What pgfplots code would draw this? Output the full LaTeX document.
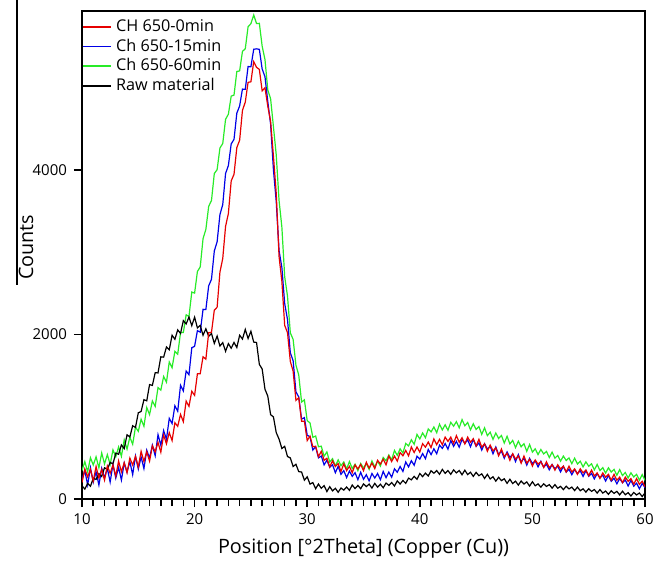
\documentclass[border=0pt]{standalone}
\usepackage{pgfplots}
\pgfplotsset{compat=1.18}
\usepackage{pgfplotstable}
\usepackage{fontspec}
\setmainfont{Open Sans}

\definecolor{cred}{RGB}{230,0,0}
\definecolor{cblue}{RGB}{0,0,230}
\definecolor{cgreen}{RGB}{40,235,40}

% x, raw material, CH 650-0min, Ch 650-15min, Ch 650-60min
\pgfplotstableread{
x raw c0 c15 c60
10.00 160 200 237 346
10.25 121 364 347 455
10.50 190 268 171 330
10.75 155 360 380 502
11.00 252 219 204 413
11.25 238 395 330 513
11.50 308 256 170 379
11.75 274 360 373 560
12.00 380 230 257 426
12.25 358 402 374 540
12.50 445 313 206 420
12.75 427 413 422 597
13.00 558 279 254 513
13.25 544 462 385 633
13.50 657 331 230 519
13.75 613 442 438 720
14.00 780 320 327 606
14.25 754 497 454 752
14.50 890 413 296 665
14.75 870 518 522 874
15.00 1048 389 364 823
15.25 1064 580 510 970
15.50 1207 456 370 884
15.75 1193 575 593 1112
16.00 1390 460 497 1026
16.25 1381 647 654 1192
16.50 1535 573 526 1125
16.75 1532 688 782 1354
17.00 1728 569 654 1323
17.25 1724 777 832 1488
17.50 1847 671 725 1419
17.75 1813 807 980 1665
18.00 1990 710 917 1596
18.25 1941 927 1134 1795
18.50 2055 883 1066 1760
18.75 2012 1028 1382 2022
19.00 2168 939 1314 2023
19.25 2127 1190 1555 2238
19.50 2212 1126 1510 2219
19.75 2106 1310 1838 2515
20.00 2210 1260 1856 2502
20.25 2079 1522 2046 2765
20.50 2110 1523 2028 2820
20.75 1990 1728 2305 3164
21.00 2068 1699 2302 3276
21.25 1977 2020 2590 3556
21.50 2012 2026 2670 3628
21.75 1891 2295 3014 3955
22.00 1980 2330 3126 4002
22.25 1859 2757 3456 4265
22.50 1900 2923 3578 4320
22.75 1795 3313 3955 4614
23.00 1888 3469 4052 4676
23.25 1832 3865 4315 4896
23.50 1902 3946 4370 4908
23.75 1841 4270 4689 5195
24.00 1990 4360 4776 5202
24.25 1944 4722 4981 5440
24.50 2060 4823 4978 5470
24.75 1950 5063 5255 5739
25.00 2038 5069 5252 5776
25.25 1907 5315 5465 5881
25.50 1902 5246 5470 5778
25.75 1636 5220 5464 5780
26.00 1580 4960 5226 5502
26.25 1334 4997 5131 5340
26.50 1250 4773 4828 4970
26.75 1025 4588 4555 4864
27.00 998 4169 4002 4526
27.25 807 3715 3615 4181
27.50 728 2946 3020 3628
27.75 614 2645 2814 3305
28.00 640 2110 2376 2702
28.25 516 2022 2181 2465
28.50 500 1673 1778 2020
28.75 395 1553 1680 1939
29.00 422 1199 1302 1626
29.25 333 1230 1240 1506
29.50 328 946 970 1178
29.75 229 945 989 1205
30.00 270 710 776 952
30.25 181 765 755 925
30.50 200 635 595 750
30.75 125 640 635 765
31.00 182 515 500 635
31.25 130 580 522 642
31.50 163 470 415 520
31.75 91 495 472 572
32.00 150 390 385 450
32.25 99 465 417 490
32.50 130 395 320 400
32.75 82 430 397 475
33.00 134 335 300 405
33.25 108 427 345 450
33.50 146 345 260 365
33.75 105 397 340 455
34.00 170 320 275 370
34.25 127 415 320 422
34.50 165 365 235 345
34.75 125 420 325 432
35.00 184 345 240 375
35.25 151 447 295 432
35.50 181 375 220 360
35.75 133 437 310 462
36.00 190 370 255 390
36.25 144 470 310 460
36.50 180 425 235 400
36.75 137 485 335 505
37.00 194 415 260 465
37.25 166 522 327 535
37.50 201 455 265 475
37.75 158 522 367 590
38.00 220 460 325 530
38.25 182 565 395 610
38.50 225 525 335 560
38.75 190 590 450 675
39.00 254 525 390 645
39.25 233 632 465 720
39.50 276 565 410 665
39.75 240 632 520 785
40.00 310 570 485 730
40.25 272 672 552 802
40.50 315 630 490 745
40.75 280 692 602 852
41.00 344 625 540 815
41.25 313 730 610 875
41.50 346 660 550 805
41.75 300 725 655 910
42.00 360 660 615 840
42.25 312 752 675 902
42.50 345 700 605 835
42.75 300 752 710 932
43.00 354 675 640 885
43.25 318 770 700 940
43.50 346 690 630 865
43.75 295 745 725 965
44.00 350 670 675 890
44.25 297 752 720 930
44.50 325 690 635 840
44.75 275 732 725 915
45.00 324 645 640 845
45.25 283 725 682 880
45.50 306 630 595 785
45.75 250 670 672 865
46.00 300 580 605 770
46.25 244 655 642 812
46.50 270 585 550 725
46.75 217 620 632 802
47.00 264 525 540 735
47.25 223 607 582 772
47.50 246 515 495 680
47.75 190 557 572 762
48.00 240 470 505 670
48.25 188 550 545 712
48.50 217 485 455 625
48.75 169 525 540 702
49.00 219 435 450 635
49.25 182 522 496 672
49.50 208 435 412 580
49.75 157 482 494 662
50.00 210 400 430 570
50.25 161 474 464 610
50.50 184 423 391 540
50.75 144 455 459 602
51.00 185 384 386 548
51.25 153 452 422 578
51.50 175 381 355 504
51.75 132 417 419 570
52.00 175 350 368 496
52.25 131 416 400 530
52.50 154 365 329 460
52.75 114 399 397 522
53.00 155 329 326 468
53.25 123 399 362 500
53.50 145 328 295 429
53.75 102 366 359 497
54.00 145 300 308 426
54.25 101 367 343 460
54.50 124 318 274 390
54.75 84 353 345 452
55.00 125 284 276 398
55.25 93 352 312 428
55.50 115 281 245 354
55.75 72 317 309 420
56.00 115 250 258 346
56.25 72 316 290 382
56.50 97 265 219 315
56.75 57 299 287 379
57.00 100 229 216 328
57.25 69 299 252 360
57.50 93 228 185 289
57.75 50 266 249 357
58.00 95 200 198 286
58.25 52 266 230 322
58.50 77 215 159 255
58.75 37 249 227 319
59.00 80 179 156 268
59.25 49 249 192 300
59.50 73 178 125 229
59.75 30 216 189 297
60.00 75 150 138 226
}\xrd

\begin{document}
\begin{tikzpicture}
\begin{axis}[name=ax, scale only axis, width=281.5pt, height=244pt,
  xmin=10, xmax=60, ymin=0, ymax=5930,
  xtick={10,20,30,40,50,60}, minor x tick num=9,
  ytick={0,2000,4000},
  tick align=outside, xtick pos=bottom, ytick pos=left,
  major tick length=4pt, minor tick length=3.5pt,
  axis line style={line width=1pt},
  every tick/.style={draw=black, line width=0.8pt},
  every minor tick/.style={draw=black, line width=0.8pt},
  /pgf/number format/1000 sep={}, /pgf/number format/assume math mode=true,
  tick label style={font=\fontsize{7.5}{9}\selectfont},
  xlabel={Position [°2Theta] (Copper (Cu))}, ylabel={Counts},
  label style={font=\fontsize{9.9}{12}\selectfont},
  xlabel style={at={(axis description cs:0.5,0)}, anchor=center, yshift=-24.5pt},
  ylabel style={at={(axis description cs:-0.0995,0.516)}, anchor=center},
  legend style={at={(0,1)}, anchor=north west, draw=none, fill=none,
    inner xsep=0pt, inner ysep=2pt, font=\fontsize{8.1}{9}\selectfont,
    row sep=-1.75pt, cells={anchor=west}},
  legend image code/.code={\draw[#1] (0pt,0pt) -- (14pt,0pt);},
]
\addlegendimage{draw=cred, line width=0.9pt}
\addlegendentry{CH 650-0min}
\addlegendimage{draw=cblue, line width=0.9pt}
\addlegendentry{Ch 650-15min}
\addlegendimage{draw=cgreen, line width=0.9pt}
\addlegendentry{Ch 650-60min}
\addlegendimage{draw=black, line width=0.9pt}
\addlegendentry{Raw material}
\addplot[cgreen, line width=0.6pt, forget plot] table[x=x, y=c60] {\xrd};
\addplot[cblue, line width=0.6pt, forget plot] table[x=x, y=c15] {\xrd};
\addplot[black, line width=0.6pt, forget plot] table[x=x, y=raw] {\xrd};
\addplot[cred, line width=0.6pt, forget plot] table[x=x, y=c0] {\xrd};
\end{axis}
\draw[line width=0.5pt] ([xshift=-32.5pt,yshift=5.5pt]ax.north west) -- ([xshift=-32.5pt,yshift=107pt]ax.south west);
\pgfresetboundingbox
\path ([shift={(-41pt,-31.5pt)}]ax.south west) rectangle ([shift={(9.5pt,5.5pt)}]ax.north east);
\end{tikzpicture}
\end{document}
